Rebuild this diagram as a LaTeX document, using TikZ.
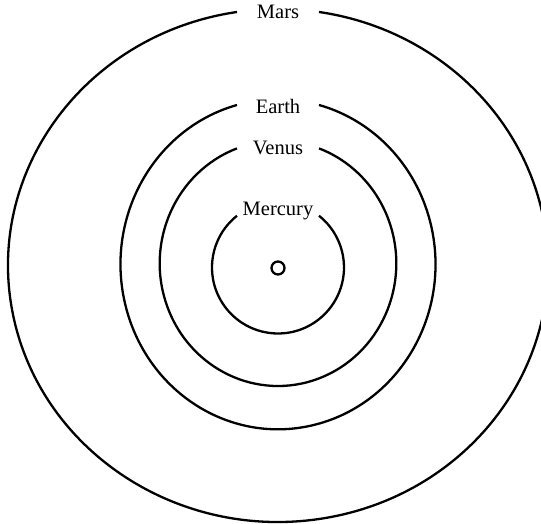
\documentclass[tikz,border=0pt]{standalone}
\usepackage{fontspec}
\setmainfont{Liberation Serif}
\newcommand\orbitarc[4]{% cx cy rx ry ; gap half width 41
  \pgfmathsetmacro\oth{acos(41/#3)}
  \pgfmathsetmacro\osa{180-\oth}
  \pgfmathsetmacro\oea{360+\oth}
  \draw[orbit] ([shift={(\osa:#3pt and #4pt)}]#1pt,#2pt) arc[start angle=\osa, end angle=\oea, x radius=#3pt, y radius=#4pt];
}
\begin{document}
\begin{tikzpicture}[x=1pt,y=1pt,
  orbit/.style={line width=2.3pt},
  lbl/.style={anchor=base, font=\fontsize{20.5}{23}\selectfont, inner sep=0pt}]
\useasboundingbox (0,0) rectangle (541,524);
\orbitarc{278}{256.5}{66}{66}
\orbitarc{278}{260.6}{118.3}{122.6}
\orbitarc{278}{259.7}{157.5}{165}
\orbitarc{278}{258.5}{270}{256.5}
\node[lbl] (mars) at (278,505.7) {Mars};
\node[lbl] (earth) at (278,410.7) {Earth};
\node[lbl] (venus) at (278,369) {Venus};
\node[lbl] (mercury) at (278,308) {Mercury};
\node[draw, circle, line width=2.3pt, minimum size=13pt, inner sep=0pt] (sun) at (278,256) {};
\end{tikzpicture}
\end{document}
